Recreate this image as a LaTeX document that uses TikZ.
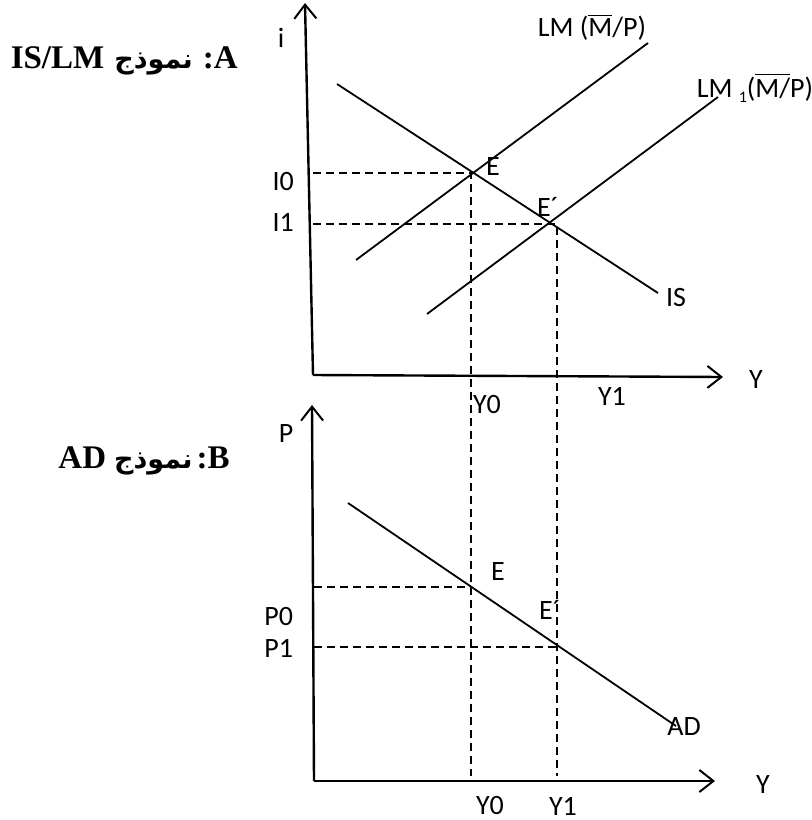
\documentclass[tikz,border=0pt]{standalone}
\usepackage{fontspec}
\newfontfamily\labelfont{Carlito}
\newfontfamily\titlefont{Liberation Serif}
\newfontfamily\arabicfont[Script=Arabic]{DejaVu Sans}
\TeXXeTstate=1
\usetikzlibrary{arrows.meta}

\begin{document}
\begin{tikzpicture}[x=0.5pt,y=-0.5pt,font=\labelfont\fontsize{14}{16}\selectfont,
  axis/.style={line width=1.2pt,-{Straight Barb[length=7pt,width=11pt,line width=1pt]}},
  curve/.style={line width=0.9pt},
  guide/.style={line width=0.9pt,dash pattern=on 4pt off 2.5pt},
  title/.style={font=\titlefont\fontsize{16.5}{20}\selectfont\bfseries,anchor=base east,inner sep=0pt}]
\useasboundingbox (0,0) rectangle (811,820);
% panel A: IS/LM
\node[title] (titleA) at (238,68) {IS/LM\hspace{5pt}{\arabicfont\fontsize{13.5}{18}\selectfont\beginR نموذج\endR}\hspace{5pt}:A};
\coordinate (O1) at (313,375);
\coordinate (itop) at (305,3);
\coordinate (Ytop) at (723,377);
\draw[axis] (O1) -- (itop);
\draw[axis] (O1) -- (Ytop);
\node (i) at (281,38) {i};
\node (Y1lbl) at (756,380) {Y};
\coordinate (is-a) at (337,84);
\coordinate (is-b) at (658,293);
\coordinate (lm-a) at (356,260);
\coordinate (lm-b) at (648,43);
\coordinate (lmone-a) at (427,314);
\coordinate (lmone-b) at (718,97);
\draw[curve] (is-a) -- (is-b);
\draw[curve] (lm-a) -- (lm-b);
\draw[curve] (lmone-a) -- (lmone-b);
\node (IS) at (676,298) {IS};
\node (LM) at (592,27) {LM ($\overline{\hbox{M}}$/P)};
\node (LMone) at (755,88) {LM \raisebox{-0.4ex}{\footnotesize 1}($\overline{\hbox{M/}}$P)};
\coordinate (E) at (471,173);
\coordinate (E1) at (557,224);
\coordinate (bot) at (471,776);
\draw[guide] (E -| O1) -- (E) -- (E |- bot);
\draw[guide] (E1 -| O1) -- (E1) -- (E1 |- bot);
\node (Elbl) at (493,167) {E};
\node (E1lbl) at (548,207) {E´};
\node[anchor=east] (I0) at (301,182) {I0};
\node[anchor=east] (I1) at (301,222) {I1};
\node (Y0top) at (487,405) {Y0};
\node (Y1top) at (612,396) {Y1};
% panel B: AD
\node[title] (titleB) at (230,468) {AD\hspace{4pt}{\arabicfont\fontsize{13.5}{18}\selectfont\beginR نموذج\endR}\hspace{2pt}:B};
\coordinate (O2) at (314,781);
\draw[axis] (O2) -- (312,405);
\draw[axis] (O2) -- (715,781);
\node (P) at (286,434) {P};
\node (Y2lbl) at (763,785) {Y};
\coordinate (ad-a) at (348,503);
\coordinate (ad-b) at (676,726);
\draw[curve] (ad-a) -- (ad-b);
\node (AD) at (684,727) {AD};
\coordinate (F) at (471,587);
\coordinate (F1) at (557,647);
\draw[guide] (F -| O2) -- (F);
\draw[guide] (F1 -| O2) -- (F1);
\node (Flbl) at (498,572) {E};
\node (F1lbl) at (550,610) {E´};
\node[anchor=east] (P0) at (300,617) {P0};
\node[anchor=east] (P1) at (300,648) {P1};
\node (Y0bot) at (490,806) {Y0};
\node (Y1bot) at (563,806) {Y1};
\end{tikzpicture}
\end{document}
